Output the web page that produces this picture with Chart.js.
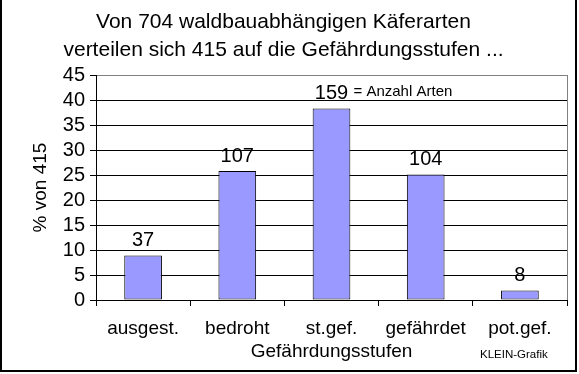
<!DOCTYPE html>
<html>
<head>
<meta charset="utf-8">
<script src="https://cdn.jsdelivr.net/npm/chart.js@4/dist/chart.umd.min.js"></script>
<style>
  html, body { margin: 0; padding: 0; background: #fff; }
  #wrap { width: 579px; height: 374px; }
</style>
</head>
<body>
<div id="wrap"><canvas id="kaeferChart" width="579" height="374"></canvas></div>
<script>
// Gefährdungsstufen and their share (% of 415 species)
var stufen = ['ausgest.', 'bedroht', 'st.gef.', 'gefährdet', 'pot.gef.'];
var prozent = [8.9, 25.8, 38.3, 25.1, 1.9];
var anzahl = ['37', '107', '159', '104', '8'];
var yTicks = [0, 5, 10, 15, 20, 25, 30, 35, 40, 45];

var FONT = 'Arial, "Liberation Sans", sans-serif';

// counts above the bars, the note and the frame
var extras = {
    id: 'extras',
    afterDatasetsDraw: function(chart) {
        var ctx = chart.ctx;
        var bars = chart.getDatasetMeta(0).data;
        ctx.save();
        ctx.fillStyle = '#000';
        ctx.font = '20px ' + FONT;
        ctx.textAlign = 'center';
        ctx.textBaseline = 'bottom';
        for (var i = 0; i < bars.length; i++) {
            ctx.fillText(anzahl[i], bars[i].x, bars[i].y - 5);
        }
        // "= Anzahl Arten" next to the biggest count
        ctx.font = '15px ' + FONT;
        ctx.textAlign = 'left';
        ctx.textBaseline = 'middle';
        ctx.fillText('= Anzahl Arten', bars[2].x + 22, bars[2].y - 17);
        ctx.restore();
    },
    afterDraw: function(chart) {
        var ctx = chart.ctx;
        var a = chart.chartArea;
        ctx.save();
        // grey right edge of the plot
        ctx.strokeStyle = '#808080';
        ctx.lineWidth = 1;
        ctx.beginPath();
        ctx.moveTo(a.right + 0.5, a.top);
        ctx.lineTo(a.right + 0.5, a.bottom);
        ctx.stroke();

        ctx.fillStyle = '#000';
        ctx.font = '11.5px ' + FONT;
        ctx.textAlign = 'left';
        ctx.textBaseline = 'middle';
        ctx.fillText('KLEIN-Grafik', 480, 355);

        // frame: left, right, bottom
        ctx.lineWidth = 2;
        ctx.strokeStyle = '#000';
        ctx.beginPath();
        ctx.moveTo(1, 0);
        ctx.lineTo(1, 371);
        ctx.lineTo(576, 371);
        ctx.lineTo(576, 0);
        ctx.stroke();
        ctx.restore();
    }
};

var ctx = document.getElementById('kaeferChart').getContext('2d');

var chart = new Chart(ctx, {
    type: 'bar',
    data: {
        labels: stufen,
        datasets: [{
            label: '% von 415',
            data: prozent,
            backgroundColor: '#9999ff',
            borderColor: '#000',
            borderWidth: 1,
            borderSkipped: false,
            categoryPercentage: 1,
            barPercentage: 0.4
        }]
    },
    options: {
        responsive: false,
        animation: false,
        devicePixelRatio: 1,
        layout: { padding: { left: 0, right: 12, top: 0, bottom: 0 } },
        plugins: {
            legend: { display: false },
            tooltip: { enabled: false },
            title: {
                display: true,
                text: ['Von 704 waldbauabhängigen Käferarten', 'verteilen sich 415 auf die Gefährdungsstufen ...'],
                color: '#000',
                font: { family: FONT, size: 21, weight: 'normal', lineHeight: '28px' },
                padding: { top: 8, bottom: 11 }
            }
        },
        scales: {
            x: {
                grid: {
                    display: true,
                    offset: true,
                    drawOnChartArea: false,
                    drawTicks: true,
                    tickLength: 6,
                    color: '#000'
                },
                border: { color: '#000', width: 1 },
                ticks: {
                    color: '#000',
                    font: { family: FONT, size: 19 },
                    padding: 11,
                    maxRotation: 0,
                    autoSkip: false
                },
                title: {
                    display: true,
                    text: 'Gefährdungsstufen',
                    color: '#000',
                    font: { family: FONT, size: 19 },
                    padding: { top: 0, bottom: 11 }
                },
                afterFit: function(scale) { scale.height = 74; }
            },
            y: {
                min: yTicks[0],
                max: yTicks[yTicks.length - 1],
                afterBuildTicks: function(scale) {
                    scale.ticks = yTicks.map(function(v) { return { value: v }; });
                },
                grid: {
                    color: function(c) { return c.tick && c.tick.value === 45 ? '#808080' : '#000'; },
                    tickLength: 6,
                    tickColor: '#000'
                },
                border: { color: '#000', width: 1 },
                ticks: {
                    color: '#000',
                    font: { family: FONT, size: 20 },
                    padding: 5,
                    autoSkip: false
                },
                title: {
                    display: true,
                    text: '% von 415',
                    color: '#000',
                    font: { family: FONT, size: 19 },
                    padding: { top: 29, bottom: 0 }
                },
                afterFit: function(scale) { scale.width = 96; }
            }
        }
    },
    plugins: [extras]
});
</script>
</body>
</html>
